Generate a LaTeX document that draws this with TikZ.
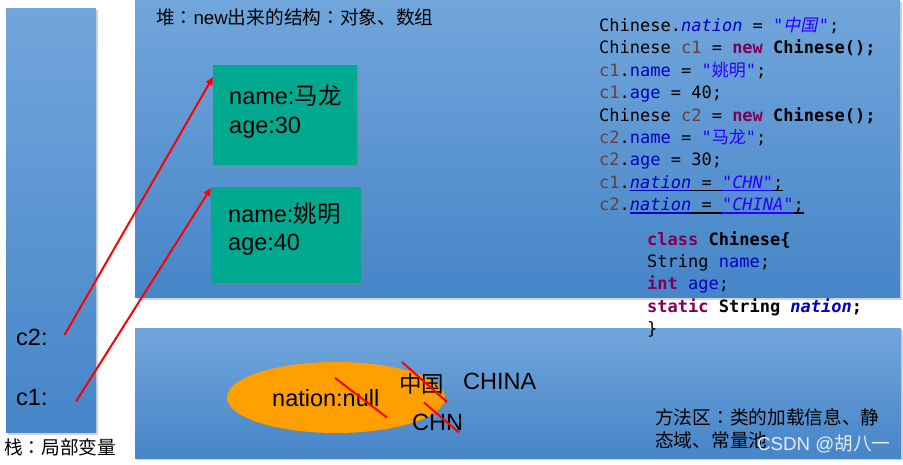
\documentclass[tikz,border=0pt]{standalone}
\usepackage{fontspec}
\setmainfont{Liberation Sans}
\newfontfamily\cjk{Noto Sans CJK SC}
\newfontfamily\cjktc{Noto Sans CJK TC}
\newfontfamily\cjkit{Noto Sans CJK SC}[FakeSlant=0.2]
\newfontfamily\codefont{DejaVu Sans Mono}
\usetikzlibrary{shapes.geometric,shadows,arrows.meta}
\definecolor{regtop}{RGB}{113,166,219}
\definecolor{regbot}{RGB}{70,133,200}
\definecolor{objgreen}{RGB}{0,169,143}
\definecolor{ellorange}{RGB}{255,160,0}
\definecolor{kwc}{RGB}{127,0,85}
\definecolor{fieldc}{RGB}{0,0,192}
\definecolor{strc}{RGB}{42,0,255}
\definecolor{varc}{RGB}{106,62,62}
\definecolor{wmc}{RGB}{228,235,243}
\newcommand\jk[1]{\textcolor{kwc}{\bfseries #1}}
\newcommand\jf[1]{\textcolor{fieldc}{#1}}
\newcommand\js[1]{\textcolor{strc}{#1}}
\newcommand\jv[1]{\textcolor{varc}{#1}}
\newcommand\fwcolon{{\cjktc ：}}
\newsavebox\julbox
\newcommand\jul[2]{\sbox\julbox{\color{#1}#2}{\color{#1}\rlap{\rule[-2.8pt]{\wd\julbox}{1.3pt}}}\usebox\julbox}
\begin{document}
\begin{tikzpicture}[x=1pt,y=-1pt,
  region/.style={rectangle, draw=none, top color=regtop, bottom color=regbot, anchor=north west, inner sep=0,
    drop shadow={opacity=0.35, shadow xshift=2pt, shadow yshift=-2pt}},
  objbox/.style={rectangle, draw=none, fill=objgreen, anchor=north west, inner sep=0,
    drop shadow={opacity=0.35, shadow xshift=2pt, shadow yshift=-2pt}},
  lbl/.style={anchor=base west, inner sep=0, font=\fontsize{23.5}{28}\selectfont},
  midlbl/.style={anchor=base west, inner sep=0, font=\fontsize{18.7}{22}\selectfont\cjk},
  codeline/.style={anchor=base west, inner sep=0, font=\codefont\fontsize{17}{20.4}\selectfont},
  refarrow/.style={draw=red, line width=2pt, -{Triangle[length=8pt,width=7pt]}},
  strike/.style={draw=red, line width=2pt}]
\useasboundingbox (0,0) rectangle (903,464);
% regions
\node[region, minimum width=90, minimum height=424.7] (stack) at (6,8) {};
\node[region, minimum width=765, minimum height=297.5] (heap) at (135,0) {};
\node[region, minimum width=766, minimum height=130] (method) at (135,328) {};
% objects
\node[objbox, minimum width=144, minimum height=100] (obj1) at (213,65) {};
\node[objbox, minimum width=150, minimum height=96] (obj2) at (211,187) {};
\node[lbl] (o1name) at (229,104.5) {name:{\cjk 马龙}};
\node[lbl] (o1age) at (229,133) {age:30};
\node[lbl] (o2name) at (228,222.7) {name:{\cjk 姚明}};
\node[lbl] (o2age) at (228,250.7) {age:40};
% stack variables
\node[lbl] (c2lbl) at (16,345) {c2:};
\node[lbl] (c1lbl) at (16,405) {c1:};
\node[midlbl] (stacklbl) at (4,454) {栈\fwcolon 局部变量};
\node[midlbl] (heaplbl) at (156,24) {堆\fwcolon{\rmfamily new}出来的结构\fwcolon 对象、数组};
% arrows
\coordinate (c2from) at (64.5,335);
\coordinate (c2to) at (213,77);
\coordinate (c1from) at (76,401.5);
\coordinate (c1to) at (211,188);
\draw[refarrow] (c2from) -- (c2to);
\draw[refarrow] (c1from) -- (c1to);
% code
\node[codeline] (l1) at (599,31.5) {Chinese.\jf{\itshape nation} = \js{\itshape "{\cjkit 中国}\kern1.5pt"};};
\node[codeline] (l2) at (599,53.9) {Chinese \jv{c1} = \jk{new} \textbf{Chinese();}};
\node[codeline] (l3) at (599,76.3) {\jv{c1}.\jf{name} = \js{"{\cjk 姚明}"};};
\node[codeline] (l4) at (599,98.7) {\jv{c1}.\jf{age} = 40;};
\node[codeline] (l5) at (599,121.1) {Chinese \jv{c2} = \jk{new} \textbf{Chinese();}};
\node[codeline] (l6) at (599,143.5) {\jv{c2}.\jf{name} = \js{"{\cjk 马龙}"};};
\node[codeline] (l7) at (599,165.9) {\jv{c2}.\jf{age} = 30;};
\node[codeline] (l8) at (599,188.3) {\jv{c1}.\jul{fieldc}{\itshape nation}\jul{black}{\ =\ }\jul{strc}{\itshape "CHN"}\jul{black}{;}};
\node[codeline] (l9) at (599,210.7) {\jv{c2}.\jul{fieldc}{\itshape nation}\jul{black}{\ =\ }\jul{strc}{\itshape "CHINA"}\jul{black}{;}};
\node[codeline] (k1) at (647,245) {\jk{class} \textbf{Chinese\{}};
\node[codeline] (k2) at (647,267.4) {String \jf{name};};
\node[codeline] (k3) at (647,289.8) {\jk{int} \jf{age};};
\node[codeline] (k4) at (647,312.2) {\jk{static} \textbf{String} \jf{\bfseries\itshape nation}\textbf{;}};
\node[codeline] (k5) at (647,334.6) {\}};
% method area
\node[ellipse, draw=none, fill=ellorange, minimum width=218, minimum height=71, inner sep=0,
  drop shadow={opacity=0.35, shadow xshift=2pt, shadow yshift=-2pt}] (static) at (336,397.5) {};
\node[lbl] (nullv) at (272,406) {nation:null};
\node[lbl, font=\fontsize{22.5}{27}\selectfont\cjk] (zg) at (399,392) {中国};
\node[lbl] (china) at (463,389) {CHINA};
\node[lbl] (chn) at (412,430.5) {CHN};
\draw[strike] (335,378) -- (387,417.5);
\draw[strike] (402,362) -- (447,402);
\draw[strike] (424,402.5) -- (459,432.5);
\node[midlbl] (m1) at (655,424) {方法区\fwcolon 类的加载信息、静};
\node[midlbl] (m2) at (655,447) {态域、常量池};
\node[midlbl, text=wmc] (wm) at (757,450) {{\rmfamily CSDN @}胡八一};
\end{tikzpicture}
\end{document}
